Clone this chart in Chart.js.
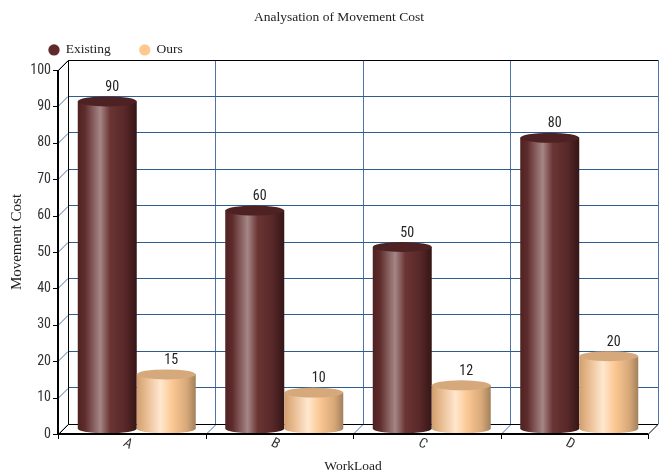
<!DOCTYPE html>
<html><head><meta charset="utf-8">
<script src="https://cdn.jsdelivr.net/npm/chart.js@4/dist/chart.umd.min.js"></script>
<style>html,body{margin:0;padding:0;background:#fff}canvas{display:block}</style>
</head><body>
<canvas id="c" width="665" height="472"></canvas>
<script>
const chartTitle = 'Analysation of Movement Cost';
const categories = ['A', 'B', 'C', 'D'];
const seriesNames = ['Existing', 'Ours'];
const existingValues = [90, 60, 50, 80];
const oursValues = [15, 10, 12, 20];
const yTickValues = [0, 10, 20, 30, 40, 50, 60, 70, 80, 90, 100];
const xAxisTitle = 'WorkLoad';
const yAxisTitle = 'Movement Cost';

const DX = 10, DY = 10;
const SERIF = "'Liberation Serif', 'Times New Roman', serif";
const NARROW = "'Roboto Condensed', 'Liberation Sans', Arial, sans-serif";
const GRID_BLUE = '#2f5c8f';
const GRID_BLUE_V = '#4f75a6';

const looks = [
  { solid: '#5e2a2a', top: '#4e2222',
    stops: [[0, '#4f2222'], [0.12, '#5e2b2b'], [0.38, '#a68686'], [0.55, '#6a3434'], [0.8, '#582828'], [1, '#351616']] },
  { solid: '#ffc890', top: '#d5a97b',
    stops: [[0, '#cf9f70'], [0.12, '#e3b486'], [0.4, '#ffe7cf'], [0.6, '#fbc894'], [0.85, '#d6a878'], [1, '#a2805c']] }
];

function line(ctx, x1, y1, x2, y2) {
  ctx.beginPath(); ctx.moveTo(x1, y1); ctx.lineTo(x2, y2); ctx.stroke();
}

const depthPlugin = {
  id: 'depth3d',
  beforeDatasetsDraw(chart) {
    const { ctx, chartArea: a, scales: { x, y } } = chart;
    const n = categories.length;
    const step = x.getPixelForValue(1) - x.getPixelForValue(0);
    const boundary = i => x.getPixelForValue(0) - step / 2 + i * step;
    ctx.save();
    ctx.lineWidth = 1;
    ctx.strokeStyle = GRID_BLUE_V;
    yTickValues.forEach(v => {
      const py = Math.round(y.getPixelForValue(v)) + 0.5;
      line(ctx, a.left - DX, py + DY, a.left, py);
    });
    for (let i = 1; i < n; i++) {
      const px = Math.round(boundary(i)) + 0.5;
      line(ctx, px - DX, a.bottom + DY, px, a.bottom);
    }
    ctx.strokeStyle = '#000';
    const L = Math.round(a.left) + 0.5, R = Math.round(a.right), T = Math.round(a.top) + 0.5, B = Math.round(a.bottom) + 0.5;
    line(ctx, L, T, R, T);
    line(ctx, L, T, L, B);
    line(ctx, L, B, R, B);
    line(ctx, L - DX, T + DY, L, T);
    line(ctx, L - DX, B + DY, L, B);
    line(ctx, R - DX, B + DY, R, B);
    ctx.restore();
  },
  beforeDatasetDraw() { return false; },
  afterDatasetsDraw(chart) {
    const { ctx, chartArea: a, scales: { x, y } } = chart;
    const n = categories.length;
    const step = x.getPixelForValue(1) - x.getPixelForValue(0);
    const boundary = i => x.getPixelForValue(0) - step / 2 + i * step;
    ctx.save();
    chart.data.datasets.forEach((ds, di) => {
      const meta = chart.getDatasetMeta(di);
      const look = looks[di];
      meta.data.forEach((el, i) => {
        const cx = el.x - DX / 2;
        const top = el.y + DY / 2;
        const bot = el.base + DY / 2;
        const rx = el.width / 2, ry = 5;
        const g = ctx.createLinearGradient(cx - rx, 0, cx + rx, 0);
        look.stops.forEach(s => g.addColorStop(s[0], s[1]));
        ctx.beginPath();
        ctx.moveTo(cx - rx, top);
        ctx.lineTo(cx - rx, bot);
        ctx.ellipse(cx, bot, rx, ry, 0, Math.PI, 0, true);
        ctx.lineTo(cx + rx, top);
        ctx.closePath();
        ctx.fillStyle = g;
        ctx.fill();
        ctx.beginPath();
        ctx.ellipse(cx, top, rx, ry, 0, 0, Math.PI * 2);
        ctx.fillStyle = look.top;
        ctx.fill();
        ctx.fillStyle = '#222';
        ctx.font = '14px ' + NARROW;
        ctx.textAlign = 'center';
        ctx.textBaseline = 'bottom';
        ctx.fillText(String(ds.data[i]), el.x, top - ry - 2);
      });
    });
    // front axes
    const L = Math.round(a.left), B = Math.round(a.bottom), R = Math.round(a.right), T = Math.round(a.top);
    ctx.strokeStyle = '#000';
    ctx.lineWidth = 2;
    line(ctx, L - DX, T + DY, L - DX, B + DY + 1);
    line(ctx, L - DX - 1, B + DY, R - DX, B + DY);
    ctx.lineWidth = 1;
    yTickValues.forEach(v => {
      const py = Math.round(y.getPixelForValue(v)) + 0.5;
      line(ctx, L - DX - 5, py + DY, L - DX, py + DY);
    });
    for (let i = 0; i <= n; i++) {
      const px = Math.round(boundary(i)) + 0.5;
      line(ctx, px - DX, B + DY, px - DX, B + DY + 5);
    }
    // category labels on the front edge, slanted
    ctx.fillStyle = '#333';
    ctx.font = '14px ' + NARROW;
    ctx.textAlign = 'center';
    ctx.textBaseline = 'middle';
    categories.forEach((c, i) => {
      const px = x.getPixelForValue(i) - DX - 4;
      ctx.save();
      ctx.translate(px, B + DY + 10);
      ctx.rotate(0.5);
      ctx.fillText(c, 0, 0);
      ctx.restore();
    });
    // x axis title centred under the front edge
    ctx.fillStyle = '#222';
    ctx.font = '13.5px ' + SERIF;
    ctx.textBaseline = 'middle';
    ctx.fillText(xAxisTitle, (a.left + a.right) / 2 - DX, 466);
    ctx.restore();
  }
};

new Chart(document.getElementById('c'), {
  type: 'bar',
  data: {
    labels: categories,
    datasets: [
      { label: seriesNames[0], data: existingValues, backgroundColor: looks[0].solid, borderColor: looks[0].solid, borderWidth: 0 },
      { label: seriesNames[1], data: oursValues, backgroundColor: looks[1].solid, borderColor: looks[1].solid, borderWidth: 0 }
    ]
  },
  options: {
    responsive: false,
    animation: false,
    devicePixelRatio: 1,
    layout: { padding: { left: 20, right: 7, top: 0, bottom: 0 } },
    datasets: { bar: { categoryPercentage: 0.8, barPercentage: 1.0 } },
    plugins: {
      title: { display: true, text: chartTitle, color: '#222', font: { family: SERIF, size: 13.5, weight: 'normal' }, padding: { top: 9, bottom: -11 } },
      legend: {
        display: true, position: 'top', align: 'start', maxHeight: 45.8,
        labels: { usePointStyle: true, pointStyle: 'circle', boxWidth: 10, boxHeight: 8, padding: 29, color: '#222', font: { family: SERIF, size: 13.5 } }
      },
      tooltip: { enabled: false }
    },
    scales: {
      x: {
        grid: { display: true, offset: true, drawTicks: false, lineWidth: 1,
          color: c => (c.index === 0 || c.index === categories.length) ? 'rgba(0,0,0,0)' : GRID_BLUE_V },
        border: { display: false },
        ticks: { display: false },
        title: { display: false },
        afterFit(s) { s.height = 48; }
      },
      y: {
        min: 0, max: 100,
        afterBuildTicks(s) { s.ticks = yTickValues.map(v => ({ value: v })); },
        grid: { display: true, drawTicks: false, color: GRID_BLUE, lineWidth: 1 },
        border: { display: false },
        ticks: { color: '#333', font: { family: NARROW, size: 14 }, padding: 17, labelOffset: DY },
        title: { display: true, text: yAxisTitle, color: '#222', font: { family: SERIF, size: 15 }, padding: { top: -12, bottom: 0 } },
        afterFit(s) { s.width = 48; }
      }
    }
  },
  plugins: [depthPlugin]
});
</script>
</body></html>
